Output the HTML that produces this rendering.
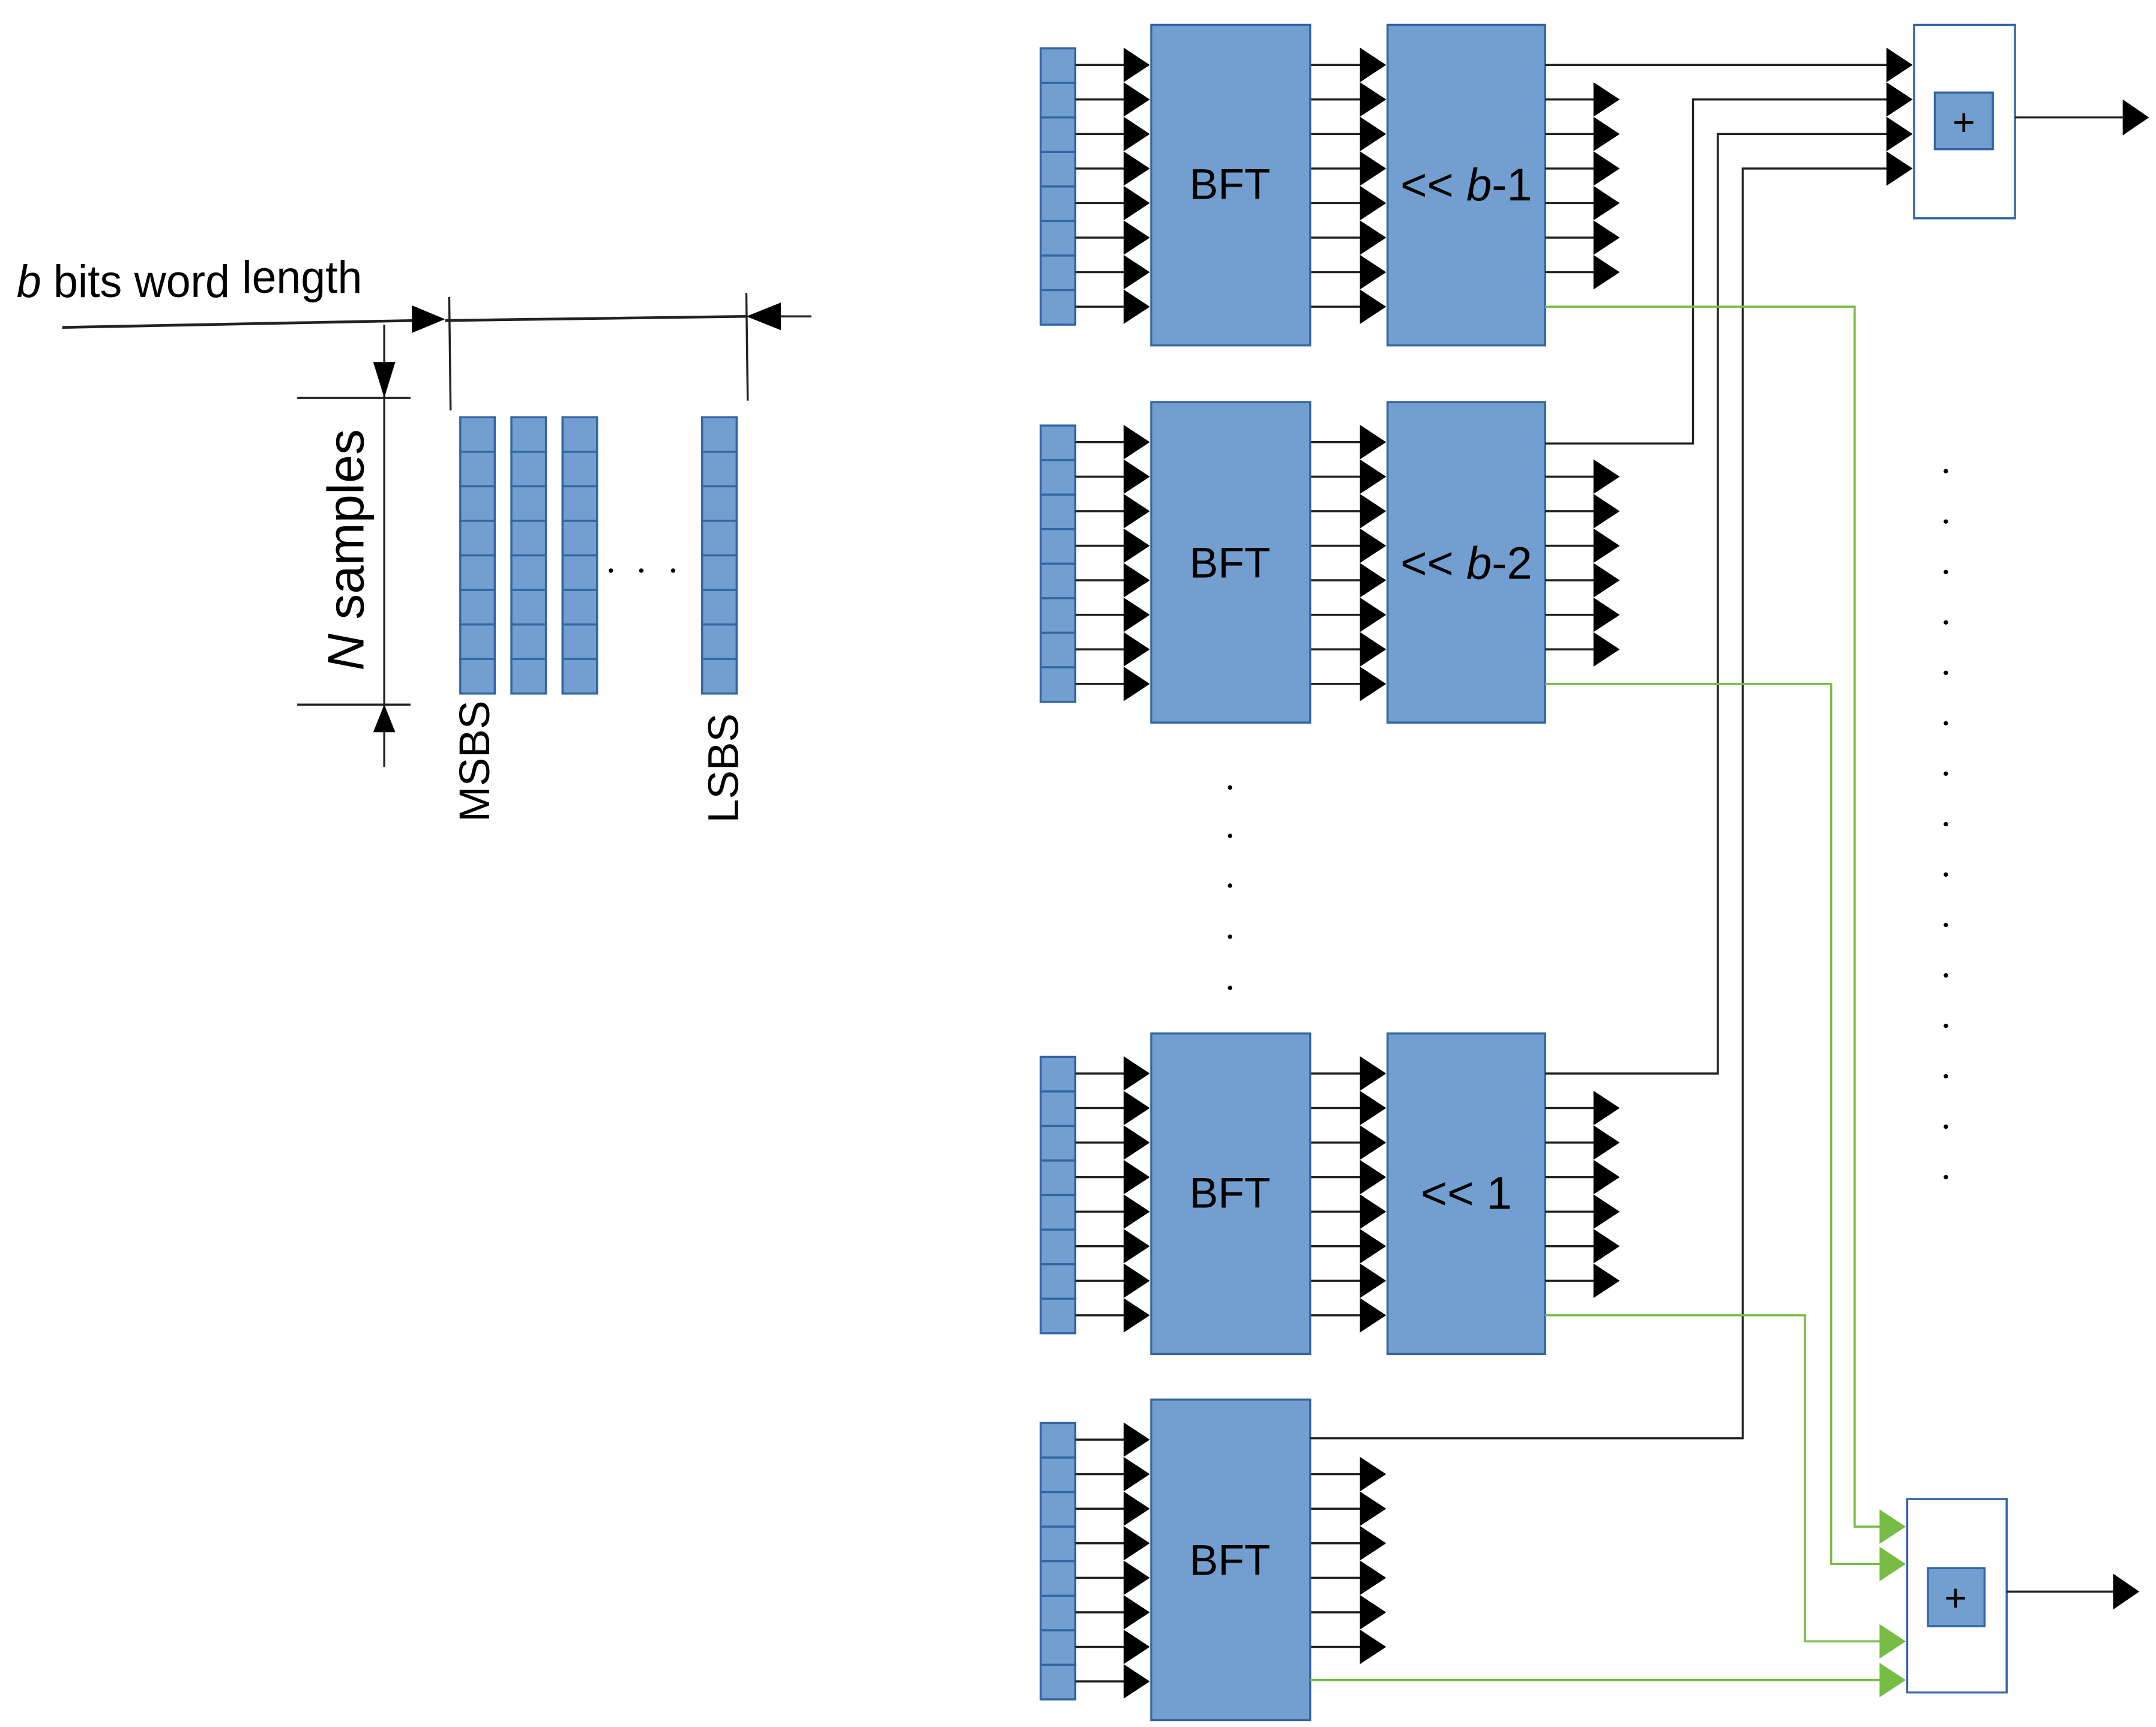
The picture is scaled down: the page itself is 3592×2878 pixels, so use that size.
<!DOCTYPE html>
<html><head><meta charset="utf-8">
<style>
html,body{margin:0;padding:0;background:#fff;}
svg{display:block;}
text{font-family:"Liberation Sans",sans-serif;fill:#000;}
</style></head>
<body>
<svg id="s" xmlns="http://www.w3.org/2000/svg" width="3592" height="2878" viewBox="0 0 1560 1250">
<rect width="1560" height="1250" fill="#fff"/>
<g id="g"></g>
<text x="12" y="215" font-size="33" textLength="250" lengthAdjust="spacingAndGlyphs"><tspan font-style="italic">b</tspan> bits word <tspan dy="-3">length</tspan></text>
<text transform="translate(263,398) rotate(-90)" font-size="37" text-anchor="middle"><tspan font-style="italic">N</tspan> samples</text>
<text transform="translate(354,551) rotate(-90)" font-size="31" text-anchor="middle">MSBS</text>
<text transform="translate(534,556) rotate(-90)" font-size="31" text-anchor="middle">LSBS</text>
<text x="890" y="144" font-size="31" text-anchor="middle">BFT</text>
<text x="890" y="418" font-size="31" text-anchor="middle">BFT</text>
<text x="890" y="874" font-size="31" text-anchor="middle">BFT</text>
<text x="890" y="1140" font-size="31" text-anchor="middle">BFT</text>
<text x="1061" y="145" font-size="33" text-anchor="middle">&lt;&lt; <tspan font-style="italic">b</tspan>-1</text>
<text x="1061" y="419" font-size="33" text-anchor="middle">&lt;&lt; <tspan font-style="italic">b</tspan>-2</text>
<text x="1061" y="875" font-size="33" text-anchor="middle">&lt;&lt; 1</text>
<text x="1421" y="98" font-size="28" text-anchor="middle">+</text>
<text x="1415" y="1166" font-size="28" text-anchor="middle">+</text>
</svg>
<script>
var o='';
var F='#729fcf',S='#3465a4',G='#77bc45',K='#222';
function R(x,y,w,h,f,s){o+='<rect x="'+x+'" y="'+y+'" width="'+w+'" height="'+h+'" fill="'+f+'" stroke="'+s+'" stroke-width="1.5"/>';}
function L(x1,y1,x2,y2,c,w){o+='<line x1="'+x1+'" y1="'+y1+'" x2="'+x2+'" y2="'+y2+'" stroke="'+c+'" stroke-width="'+(w||1.5)+'"/>';}
function P(pts,c){o+='<polyline points="'+pts+'" fill="none" stroke="'+c+'" stroke-width="1.5"/>';}
function T(x,y,c,w,h){w=w||19;h=h||12.5;o+='<polygon points="'+(x-w)+','+(y-h)+' '+x+','+y+' '+(x-w)+','+(y+h)+'" fill="'+(c||'#000')+'"/>';}
function col(x,y,w){for(var i=0;i<8;i++)R(x,y+i*25,w,25,F,S);}
var cx=[333,370,407,508];
cx.forEach(function(x){col(x,302,25);});
[442,464,487].forEach(function(x){o+='<circle cx="'+x+'" cy="413" r="1.6" fill="#000"/>';});
L(45,237,300,232,K,2);T(322,231,'#000',24,10);
L(322,232,540,229,K,2);
L(325,215,326,297,K,1.5);L(540,212,541,290,K,1.5);
L(587,229,562,229,K,1.5);o+='<polygon points="540,229 565,219 565,239" fill="#000"/>';
L(278,235,278,555,K,1.5);
o+='<polygon points="278,288 270,262 286,262" fill="#000"/>';
o+='<polygon points="278,510 270,530 286,530" fill="#000"/>';
L(215,288,297,288,K,1.5);L(215,510,297,510,K,1.5);
function block(top,hasShift){
  var ci=top+17; col(753,ci,25);
  for(var i=0;i<8;i++){var y=ci+12+i*25;L(778,y,815,y,K);T(832,y);L(948,y,988,y,K);T(1003,y);}
  R(833,top,115,232,F,S);
  if(hasShift){R(1004,top,114,232,F,S);
    for(var i=1;i<7;i++){var y=ci+12+i*25;L(1118,y,1156,y,K);T(1172,y);}}
}
function block4(top){
  var ci=top+17; col(753,ci,25);
  for(var i=0;i<8;i++){var y=ci+12+i*25;L(778,y,815,y,K);T(832,y);}
  for(var i=1;i<7;i++){var y=ci+12+i*25;L(948,y,988,y,K);T(1003,y);}
  R(833,top,115,232,F,S);
}
block(18,1);block(291,1);block(748,1);block4(1013);
R(1385,18,73,140,'#fff',S);R(1400,67,42,41,F,S);
P('1118,47 1367,47',K);T(1384,47);
P('1118,321 1225,321 1225,72 1367,72',K);T(1384,72);
P('1118,777 1243,777 1243,97 1367,97',K);T(1384,97);
P('948,1041 1261,1041 1261,122 1367,122',K);T(1384,122);
L(1458,85,1537,85,K);T(1555,85,'#000',19,13);
R(1380,1085,72,140,'#fff',S);R(1395,1135,41,42,F,S);
P('1118,222 1342,222 1342,1105 1362,1105',G);T(1379,1105,G);
P('1118,495 1325,495 1325,1132 1362,1132',G);T(1379,1132,G);
P('1118,952 1306,952 1306,1188 1362,1188',G);T(1379,1188,G);
P('948,1216 1362,1216',G);T(1379,1216,G);
L(1452,1152,1530,1152,K);T(1548,1152,'#000',19,13);
[570,605,641,678,715].forEach(function(y){o+='<circle cx="890" cy="'+y+'" r="1.6" fill="#000"/>';});
for(var y=341;y<=852;y+=36.5)o+='<circle cx="1408" cy="'+y+'" r="1.6" fill="#000"/>';
document.getElementById('g').innerHTML=o;
</script>
</body></html>
